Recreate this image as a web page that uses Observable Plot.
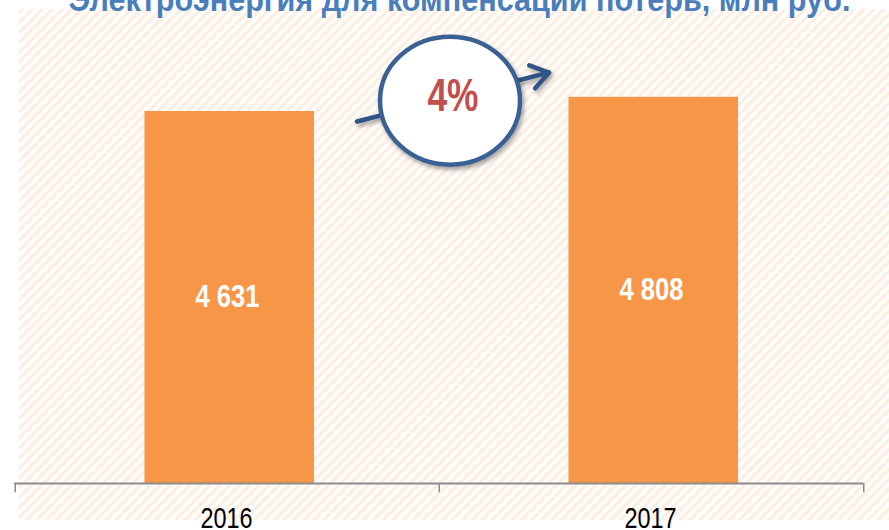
<!DOCTYPE html>
<html>
<head>
<meta charset="utf-8">
<script src="https://cdn.jsdelivr.net/npm/d3@7"></script>
<script src="https://cdn.jsdelivr.net/npm/@observablehq/plot@0.6"></script>
<style>
  html, body { margin: 0; padding: 0; background: #fff; overflow: hidden; }
  #chart svg { display: block; }
</style>
</head>
<body>
<div id="chart"></div>
<script>
const title = "Электроэнергия для компенсации потерь, млн руб.";
const years = ["2016", "2017"];
const values = [4631, 4808];
const valueLabels = ["4 631", "4 808"];
const growthLabel = "4%";

const data = years.map((y, i) => ({year: y, value: values[i], label: valueLabels[i]}));

const W = 889, H = 530;
const font = "'Liberation Sans', Arial, sans-serif";

const plot = Plot.plot({
  width: W,
  height: H,
  marginLeft: 14,
  marginRight: 26,
  marginTop: 0,
  marginBottom: 47,
  style: {fontFamily: font, background: "transparent", overflow: "visible"},
  x: {domain: years, padding: 0, label: null},
  y: {domain: [0, 6013], axis: null},
  marks: [
    Plot.barY(data, {x: "year", y: "value", fill: "#f79646", insetLeft: 129.5, insetRight: 125}),
    Plot.ruleY([0], {stroke: "#8c8c8c", strokeWidth: 2}),
    Plot.ruleX(data, {x: "year", y1: 0, y2: -115, dx: -212.25, stroke: "#8c8c8c", strokeWidth: 1.5}),
    Plot.ruleX(data.slice(-1), {x: "year", y1: 0, y2: -115, dx: 212.25, stroke: "#8c8c8c", strokeWidth: 1.5}),
    Plot.axisX({tickSize: 0, tickPadding: 23, fontSize: 30, fill: "#000", dx: -1, className: "xax"}),
    Plot.text(data, {x: "year", y: d => d.value / 2, text: "label", fill: "#fff", fontWeight: "bold", fontSize: 31, dx: 0, className: "vals"}),
    Plot.text([title], {frameAnchor: "top", text: d => d, lineAnchor: "bottom", dy: 10, dx: 20.5, fill: "#4a7ebb", fontWeight: "bold", fontSize: 34, className: "ttl"})
  ]
});

document.getElementById("chart").appendChild(plot);

const svg = d3.select(plot);
const xs = plot.scale("x"), ys = plot.scale("y");
const mid = xs.apply("2017");

// narrow-font look: compress glyphs to the reference widths
svg.selectAll(".ttl text").attr("textLength", 782).attr("lengthAdjust", "spacingAndGlyphs");
svg.selectAll(".vals text").attr("textLength", 64).attr("lengthAdjust", "spacingAndGlyphs");
svg.selectAll(".xax text").attr("textLength", 52).attr("lengthAdjust", "spacingAndGlyphs");

// hatched background
const defs = svg.insert("defs", ":first-child");
const pat = defs.append("pattern").attr("id", "hatch").attr("patternUnits", "userSpaceOnUse")
  .attr("width", 7).attr("height", 7).attr("patternTransform", "rotate(45)");
pat.append("rect").attr("width", 7).attr("height", 7).attr("fill", "#fffdfb");
pat.append("rect").attr("width", 3).attr("height", 7).attr("fill", "#fdeee2");
const f = defs.append("filter").attr("id", "sh").attr("x", "-20%").attr("y", "-20%").attr("width", "140%").attr("height", "140%");
f.append("feDropShadow").attr("dx", 2).attr("dy", 3).attr("stdDeviation", 2).attr("flood-color", "#000").attr("flood-opacity", 0.35);

svg.insert("rect", "defs + *").attr("x", 19).attr("y", 9).attr("width", W - 19).attr("height", 511).attr("fill", "url(#hatch)");

// growth annotation
const ann = svg.append("g");
const yA1 = ys.apply(4500), yA2 = ys.apply(5110);
const x1 = mid - 82, x2 = mid + 110;
const ang = Math.atan2(yA2 - yA1, x2 - x1);
const wl = 21, wa = 0.6;
const arrow = ann.append("g").attr("filter", "url(#sh)").attr("stroke", "#2e5486").attr("stroke-width", 4.5).attr("fill", "none").attr("stroke-linecap", "round").attr("stroke-linejoin", "round");
arrow.append("line").attr("x1", x1).attr("y1", yA1).attr("x2", x2).attr("y2", yA2);
arrow.append("path").attr("d",
  `M${x2 - wl * Math.cos(ang - wa)},${yA2 - wl * Math.sin(ang - wa)} L${x2},${yA2} L${x2 - wl * Math.cos(ang + wa)},${yA2 - wl * Math.sin(ang + wa)}`);

const cy = ys.apply(4760);
ann.append("ellipse").attr("cx", mid + 11).attr("cy", cy).attr("rx", 70).attr("ry", 64)
  .attr("fill", "#fff").attr("stroke", "#3b6193").attr("stroke-width", 4.5).attr("filter", "url(#sh)");
ann.append("text").attr("x", mid + 14).attr("y", cy - 6).attr("text-anchor", "middle").attr("dominant-baseline", "central")
  .attr("font-family", font).attr("font-weight", "bold").attr("font-size", 46).attr("fill", "#c0504d")
  .attr("textLength", 51).attr("lengthAdjust", "spacingAndGlyphs").text(growthLabel);
</script>
</body>
</html>
